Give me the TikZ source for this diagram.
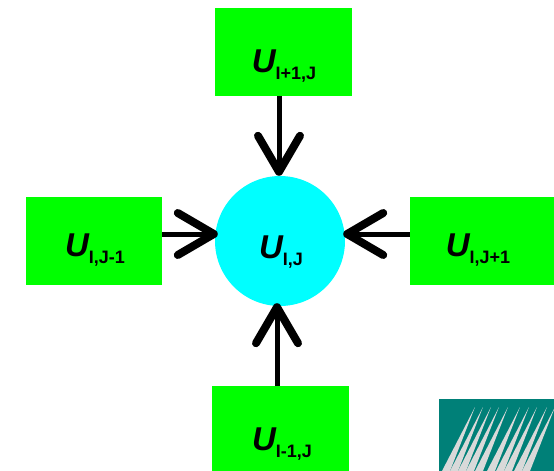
\documentclass[tikz,border=0pt]{standalone}
\usepackage{fontspec}
\setmainfont{Liberation Sans}
\usetikzlibrary{arrows.meta,positioning}
\definecolor{boxgreen}{RGB}{0,255,0}
\definecolor{hubcyan}{RGB}{0,255,255}
\definecolor{logoteal}{RGB}{0,128,120}
\definecolor{logogray}{RGB}{217,217,217}
\newcommand{\ulabel}[1]{\bfseries{\fontsize{33}{33}\selectfont\itshape U}\raisebox{-7pt}{\fontsize{18}{18}\selectfont #1}}

\begin{document}
\begin{tikzpicture}[
    x=1pt, y=-1pt,
    >={Straight Barb[length=36pt,width=42pt,round,line width=8pt]},
    cell/.style={rectangle, fill=boxgreen, minimum width=137pt, minimum height=88pt, inner sep=0pt},
    hubnode/.style={circle, fill=hubcyan, minimum size=130pt, inner sep=0pt},
    celltext/.style={inner sep=0pt},
    flow/.style={->, line width=5pt, black}
]
\useasboundingbox (0,0) rectangle (554,471);
\clip (0,0) rectangle (554,471);

% ---- logo corner ----
\fill[logoteal] (439,399) rectangle (554,471);
\foreach \tx in {475, 483, 491, 499, 508, 520, 529, 537, 547, 555} {
  \fill[logogray] (\tx,407) -- (\tx-25,471) -- (\tx-33,471) -- cycle;
}

% ---- hub and cells ----
\node[hubnode] (hubij) at (280,241) {};
\node[cell] (north) at (283.5,52) {};
\node[cell, minimum width=136pt] (west) at (94,241) {};
\node[cell, minimum width=144pt] (east) at (482,241) {};
\node[cell] (south) at (280.5,430) {};

% ---- labels ----
\node[celltext] (lblc) at (281,252) {\ulabel{I,J}};
\node[celltext] (lbln) at (284,66) {\ulabel{I+1,J}};
\node[celltext] (lblw) at (95,250) {\ulabel{I,J-1}};
\node[celltext] (lble) at (478,250) {\ulabel{I,J+1}};
\node[celltext] (lbls) at (282,444) {\ulabel{I-1,J}};

% ---- arrows ----
\draw[flow] ([xshift=-4.5pt]north.south) -- ([xshift=-1pt]hubij.north);
\draw[flow] ([yshift=7pt]west.east) -- ([xshift=3pt,yshift=7pt]hubij.west);
\draw[flow] ([yshift=7pt]east.west) -- ([xshift=-2pt,yshift=7pt]hubij.east);
\draw[flow] ([xshift=-3.5pt]south.north) -- ([xshift=-3pt,yshift=3pt]hubij.south);

\end{tikzpicture}
\end{document}
